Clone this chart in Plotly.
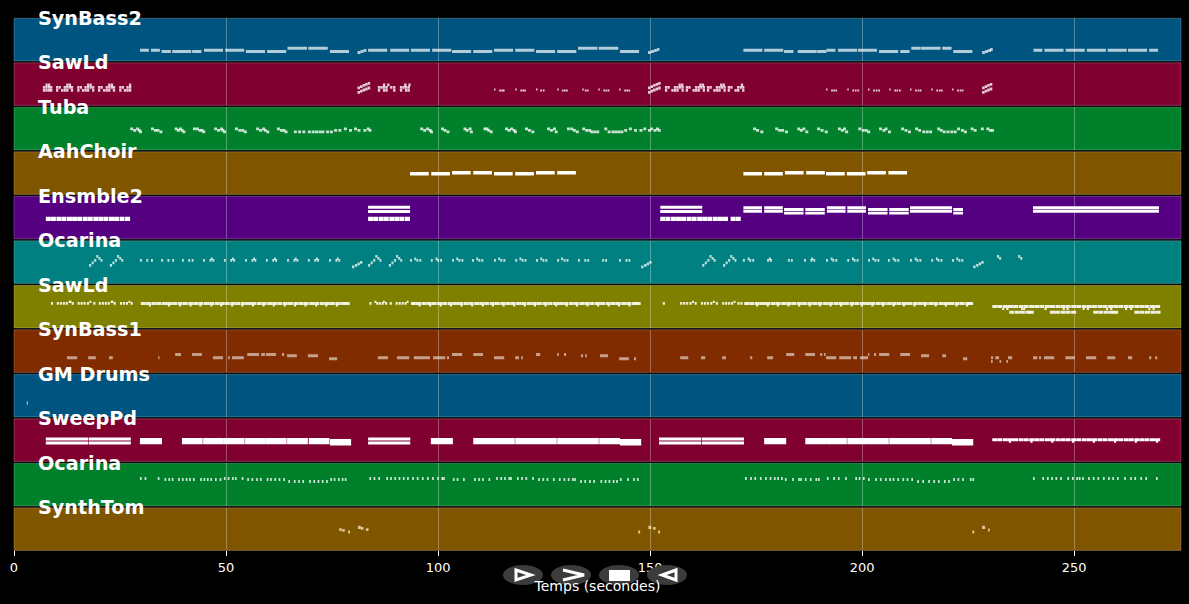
import plotly.graph_objects as go

# Each group: (pitch height, bar thickness, duration(s), [note starts in seconds])
TRACK_NAMES = ["SynBass2", "SawLd", "Tuba", "AahChoir", "Ensmble2", "Ocarina",
               "SawLd", "SynBass1", "GM Drums", "SweepPd", "Ocarina", "SynthTom"]
ROW_COLORS = ["#005580", "#800030", "#00802b", "#805500", "#550080", "#008080",
              "#808000", "#802b00", "#005580", "#800030", "#00802b", "#805500"]
NOTE_COLORS = ["rgba(255,255,255,0.7)", "rgba(255,255,255,0.8)", "rgba(255,255,255,0.78)",
               "rgba(255,255,255,1)", "rgba(255,255,255,1)", "rgba(255,255,255,0.75)",
               "rgba(255,255,255,0.88)", "rgba(255,255,255,0.55)", "rgba(255,255,255,0.55)",
               "rgba(255,255,255,1)", "rgba(255,255,255,0.8)", "rgba(255,235,190,0.75)"]

SYNBASS2 = [
    (10.7, 3, 2.1, [29.7, 32.3, 191.6, 240.4, 267.7]),
    (9.3, 3, 2.2, [34.8, 42.0, 181.6, 189.4, 209.0]),
    (9.3, 3, 4.5, [37.3, 54.7, 59.7, 74.5, 103.3, 108.3, 123.1, 128.1, 142.9, 184.8, 204.0, 221.5]),
    (10.7, 3, 4.5, [44.8, 49.8, 83.5, 88.7, 93.6, 98.6, 113.2, 118.2, 172.0, 176.9, 194.3, 199.0,
                    243.0, 248.0, 253.0, 257.9, 262.7]),
    (12.7, 3, 4.6, [64.5, 69.4, 133.0, 137.9, 213.9]),
    (12.7, 3, 2.2, [211.6, 218.9]),
    (8.5, 3, 0.7, [81.0, 149.5, 228.3]),
    (9.5, 3, 0.7, [81.7, 150.2, 229.0]),
    (10.5, 3, 0.7, [82.4, 150.9, 229.7]),
    (11.3, 3, 0.6, [151.6, 230.2]),
]

SAWLD_1 = [
    (20.5, 2.8, 0.55, [7.4, 8.0, 12.3, 12.9, 17.2, 17.8, 22.2, 22.8, 27.1, 87.0, 88.0, 92.0, 93.0,
                       156.7, 157.3, 161.6, 162.2, 166.5, 167.1, 171.4]),
    (18.0, 2.8, 0.55, [6.8, 7.4, 8.0, 8.5, 9.9, 10.5, 11.7, 12.3, 12.9, 13.4, 14.9, 15.5, 16.6, 17.2,
                       17.8, 18.4, 19.8, 20.4, 21.6, 22.2, 22.8, 23.3, 24.8, 25.4, 26.5, 27.1,
                       85.8, 86.4, 87.0, 87.6, 88.7, 89.4, 91.0, 91.6, 92.2, 92.8,
                       153.5, 154.1, 155.6, 156.2, 156.8, 157.4, 158.4, 159.0, 160.6, 161.2,
                       161.8, 162.4, 163.4, 164.0, 165.5, 166.1, 166.7, 167.3, 168.3, 168.9,
                       170.5, 171.1, 171.7]),
    (15.0, 2.8, 0.55, [6.8, 7.4, 8.0, 8.5, 9.9, 11.1, 11.7, 12.3, 13.4, 14.9, 16.0, 16.6, 17.2, 18.4,
                       19.8, 21.0, 21.6, 22.2, 23.3, 24.8, 25.9, 26.5, 27.1,
                       85.8, 87.0, 87.6, 89.4, 91.0, 92.2, 92.8,
                       153.5, 155.0, 155.6, 156.2, 157.4, 158.4, 160.0, 160.6, 161.2, 162.4,
                       163.4, 164.9, 165.5, 166.1, 167.3, 168.3, 169.9, 170.5, 171.7]),
    (13.0, 2.8, 0.6, [81.0, 149.5, 228.3]),
    (14.2, 2.8, 0.6, [81.6, 150.1, 228.9]),
    (15.4, 2.8, 0.6, [82.2, 150.7, 229.5]),
    (16.4, 2.8, 0.6, [82.8, 151.3, 230.1]),
    (17.4, 2.8, 0.6, [83.4, 151.9]),
    (17.6, 2.8, 0.6, [81.0, 149.5, 228.3]),
    (18.8, 2.8, 0.6, [81.6, 150.1, 228.9]),
    (20.0, 2.8, 0.6, [82.2, 150.7, 229.5]),
    (21.0, 2.8, 0.6, [82.8, 151.3, 230.1]),
    (22.0, 2.8, 0.6, [83.4, 151.9]),
    (16.0, 2, 0.35, [113.2, 118.2, 123.1, 128.1, 134.0, 137.8, 142.7, 191.5, 196.5, 201.4, 206.4,
                     211.3, 216.3, 221.2]),
    (15.0, 2, 0.4, [114.4, 114.9, 115.3, 119.4, 119.9, 120.3, 124.1, 124.7, 129.2, 129.7, 130.2,
                    134.6, 135.1, 139.0, 139.5, 140.0, 143.9, 144.4, 144.9,
                    192.7, 193.2, 193.7, 197.7, 198.3, 198.9, 202.6, 203.2, 203.8, 207.6, 208.1,
                    208.7, 212.5, 213.1, 213.6, 217.5, 218.1, 218.6, 222.4, 223.0, 223.5]),
]

TUBA = [
    (21.0, 2.8, 0.7, [27.4, 28.8, 32.3, 37.9, 38.9, 42.2, 42.9, 47.2, 48.6, 52.1, 57.1, 58.5, 62.0,
                      77.8, 80.2, 83.2, 95.8, 97.2, 100.7, 106.0, 107.2, 110.7, 111.2, 115.8,
                      117.0, 120.5, 125.7, 127.1, 130.4, 131.2, 134.0, 139.2, 145.0, 148.4, 150.0,
                      151.4, 174.3, 179.5, 184.7, 185.9, 189.4, 194.3, 195.5, 199.1, 204.0, 205.3,
                      209.2, 212.5, 217.7, 222.4, 225.6, 228.0, 229.3]),
    (19.5, 2.8, 0.7, [28.1, 29.2, 33.0, 33.6, 38.4, 39.3, 43.5, 44.0, 47.9, 48.9, 52.9, 53.6, 57.8,
                      58.9, 62.7, 63.3, 75.5, 76.5, 79.0, 81.0, 82.4, 83.6, 96.5, 97.8, 101.3,
                      106.5, 111.6, 116.4, 117.6, 121.2, 126.4, 131.8, 134.7, 135.4, 143.9, 146.2,
                      147.5, 149.5, 150.8, 151.8, 175.0, 180.2, 180.9, 185.3, 190.2, 195.0,
                      199.9, 200.6, 204.8, 210.0, 213.2, 218.3, 223.3, 226.3, 229.9, 230.4]),
    (18.0, 2.8, 0.7, [29.5, 34.3, 39.7, 44.4, 49.3, 54.2, 59.5, 63.8, 66.0, 67.0, 68.0, 69.3, 70.2,
                      71.0, 71.8, 72.5, 73.6, 74.5, 98.1, 102.0, 107.5, 112.2, 117.9, 122.0, 127.5,
                      132.5, 135.9, 136.6, 137.3, 140.0, 140.9, 141.6, 142.3, 143.0, 176.0, 181.8,
                      186.6, 191.2, 196.0, 201.2, 206.1, 210.8, 214.2, 215.0, 215.8, 219.0, 219.9,
                      220.8, 221.6, 224.0]),
]

AAHCHOIR = [
    (20.7, 3.5, 4.4, [93.4, 98.4, 113.2, 118.2, 172.0, 176.9, 191.5, 196.4]),
    (21.7, 3.5, 4.4, [103.3, 108.3, 123.1, 128.1, 181.8, 186.8, 201.2, 206.2]),
]

ENSMBLE2 = [
    (20.0, 4.2, 1.18, [7.5, 8.7, 10.0, 11.2, 12.5, 13.7, 14.9, 16.2, 17.4, 18.7, 19.9, 21.1, 22.4,
                       23.6, 24.9, 26.2, 83.5, 84.7, 86.0, 87.2, 88.5, 89.7, 90.9, 92.2,
                       152.4, 153.6, 154.9, 156.1, 157.3, 158.6, 159.8, 161.1, 162.3, 163.5, 164.8,
                       166.0, 167.2, 169.0, 170.2]),
    (31.6, 2.9, 9.9, [83.5, 152.4]),
    (27.4, 2.9, 9.9, [83.5, 152.4]),
    (31.2, 2.9, 4.4, [172.0, 176.9, 191.7, 196.5]),
    (27.6, 2.9, 4.4, [172.0, 176.9, 191.7, 196.5]),
    (29.4, 2.9, 4.6, [181.6, 186.6, 201.4, 206.4]),
    (25.8, 2.9, 4.6, [181.6, 186.6, 201.4, 206.4]),
    (31.2, 2.9, 9.9, [211.3, 240.3, 250.2, 260.1]),
    (27.6, 2.9, 9.9, [211.3, 240.3, 250.2, 260.1]),
    (29.4, 2.9, 2.3, [221.5]),
    (25.8, 2.9, 2.3, [221.5]),
]

OCARINA_1 = [
    (23.0, 2.6, 0.45, [29.7, 31.2, 32.3, 34.7, 36.2, 37.3, 39.6, 41.1, 41.9, 44.6, 46.1, 46.8, 49.5,
                       51.0, 51.7, 54.5, 56.0, 56.7, 59.4, 60.9, 61.6, 64.4, 65.9, 66.6, 69.3, 70.8,
                       71.5, 74.3, 75.8, 76.5, 93.4, 94.9, 95.6, 98.3, 99.8, 100.5, 103.3, 104.8,
                       105.5, 108.0, 109.5, 110.2, 113.2, 114.7, 115.4, 118.2, 119.7, 120.4, 123.1,
                       124.6, 125.3, 128.1, 129.6, 130.3, 133.0, 134.5, 135.2, 138.7, 139.4, 142.7,
                       144.2, 144.9, 171.9, 173.4, 174.1, 177.6, 178.3, 182.5, 183.2, 186.3, 187.8,
                       188.5, 191.5, 193.0, 193.7, 196.5, 198.0, 198.7, 201.4, 202.9, 203.6, 206.1,
                       207.6, 208.3, 211.3, 212.8, 213.5, 216.3, 217.8, 218.5, 221.2, 222.7, 223.4,
                       20.4, 25.3, 86.2, 91.1, 165.0, 169.9]),
    (24.5, 2.6, 0.45, [46.4, 51.4, 56.4, 61.3, 66.2, 71.2, 76.1, 94.4, 99.4, 104.3, 109.0, 114.2,
                       119.2, 124.1, 129.0, 173.0, 178.0, 188.0, 192.6, 197.6, 202.4, 207.2, 212.4,
                       217.4, 222.2]),
    (18.0, 2.6, 0.5, [17.7, 22.6, 83.5, 88.4, 162.3, 167.2]),
    (20.5, 2.6, 0.5, [18.3, 23.2, 84.1, 89.0, 162.9, 167.8]),
    (23.0, 2.6, 0.5, [18.9, 23.8, 84.7, 89.6, 163.5, 168.4]),
    (27.0, 2.6, 0.5, [19.4, 24.3, 85.2, 90.1, 164.0, 168.9, 231.8, 236.8]),
    (25.0, 2.6, 0.5, [19.9, 24.8, 85.7, 90.6, 164.5, 169.4, 232.3, 237.3]),
    (16.5, 2.8, 0.55, [79.7, 147.9, 226.2]),
    (18.0, 2.8, 0.55, [80.4, 148.6, 226.9]),
    (19.5, 2.8, 0.55, [81.0, 149.2, 227.5]),
    (21.0, 2.8, 0.55, [81.6, 149.8, 228.1]),
]

SAWLD_2 = [
    (24.5, 3, 1.18, [29.9, 31.1, 32.4, 33.6, 34.9, 36.1, 37.3, 38.6, 39.8, 41.1, 42.3, 43.5, 44.8,
                     46.0, 47.3, 48.5, 49.7, 51.0, 52.2, 53.5, 54.7, 55.9, 57.2, 58.4, 59.7, 60.9,
                     62.1, 63.4, 64.6, 65.9, 67.1, 68.3, 69.6, 70.8, 72.1, 73.3, 74.5, 75.8, 77.0,
                     78.0, 93.6, 94.8, 96.1, 97.3, 98.5, 99.8, 101.0, 102.3, 103.5, 104.7, 106.0,
                     107.2, 108.5, 109.7, 110.9, 112.2, 113.4, 114.7, 115.9, 117.1, 118.4, 119.6,
                     120.9, 122.1, 123.3, 124.6, 125.8, 127.1, 128.3, 129.5, 130.8, 132.0, 133.3,
                     134.5, 135.7, 137.0, 138.2, 139.5, 140.7, 141.9, 143.2, 144.4, 145.7, 146.6,
                     172.2, 173.4, 174.7, 175.9, 177.1, 178.4, 179.6, 180.9, 182.1, 183.3, 184.6,
                     185.8, 187.1, 188.3, 189.5, 190.8, 192.0, 193.3, 194.5, 195.7, 197.0, 198.2,
                     199.5, 200.7, 201.9, 203.2, 204.4, 205.7, 206.9, 208.1, 209.4, 210.6, 211.9,
                     213.1, 214.3, 215.6, 216.8, 218.1, 219.3, 220.5, 221.8, 223.0, 224.3, 225.0]),
    (22.4, 2, 0.5, [31.8, 36.3, 38.9, 41.4, 43.7, 46.3, 48.6, 51.2, 53.6, 56.1, 58.6, 61.0, 63.6,
                    66.0, 68.5, 71.0, 73.4, 75.9, 95.4, 97.9, 100.4, 102.8, 105.3, 107.8, 110.3,
                    112.7, 115.2, 117.7, 120.2, 122.6, 125.1, 127.6, 130.1, 132.5, 135.0, 137.5,
                    140.0, 142.4, 144.9, 175.0, 177.5, 179.9, 182.4, 184.9, 187.4, 189.8, 192.3,
                    194.8, 197.3, 199.7, 202.2, 204.7, 207.2, 209.6, 212.1, 214.6, 217.1, 219.5,
                    222.0, 224.5]),
    (24.5, 2.6, 0.5, [8.7, 10.1, 10.8, 11.5, 12.2, 13.6, 15.0, 15.7, 16.4, 17.2, 18.7, 20.0, 20.7,
                      21.4, 22.1, 23.5, 25.0, 25.7, 26.4, 27.5, 83.8, 85.4, 86.0, 86.7, 87.5, 88.6,
                      90.0, 90.7, 91.4, 92.1, 94.0, 153.0, 157.1, 157.8, 158.5, 159.3, 160.5,
                      162.0, 162.7, 163.4, 164.2, 165.5, 167.0, 167.7, 168.4, 169.1, 170.6, 171.3]),
    (26.0, 2.2, 0.45, [12.9, 13.1, 17.8, 22.8, 23.0, 27.0, 85.0, 87.0, 92.6, 159.9, 164.8, 169.7]),
    (21.3, 3, 1.18, [230.7, 231.9, 233.2, 234.4, 235.6, 236.9, 238.1, 239.4, 240.6, 241.8, 243.1,
                     244.3, 245.6, 246.8, 248.0, 249.3, 250.5, 251.8, 253.0, 254.2, 255.5, 256.7,
                     258.0, 259.2, 260.4, 261.7, 262.9, 264.2, 265.4, 266.6, 267.9, 269.1]),
    (15.7, 3, 1.18, [234.7, 236.0, 237.2, 238.5, 239.3, 244.3, 245.5, 246.8, 248.0, 249.3,
                     254.5, 255.7, 257.0, 258.2, 259.2, 264.2, 265.4, 266.7, 268.0, 269.2]),
    (19.0, 2, 0.5, [233.0, 234.0, 237.5, 238.0, 243.0, 247.3, 248.2, 252.0, 253.0, 257.5, 258.5,
                    262.0, 263.2, 267.5, 268.5]),
]

SYNBASS1 = [
    (14.7, 3, [2.4, 1.8, 0.9, 0.3, 2.4, 0.4, 2.8, 2.4, 2.9, 3.8, 2.9, 0.5, 2.4, 0.9, 0.4, 1.9, 1.0, 0.9,
               0.5, 1.4, 2.4, 2.8, 0.9, 1.9, 0.5, 0.9, 1.0, 1.0, 0.5, 2.4, 2.3, 2.4, 1.9, 1.0, 0.5, 0.5],
     [12.5, 17.5, 22.4, 34.0, 46.9, 50.5, 51.4, 85.8, 90.3, 94.3, 98.8, 102.1, 113.2, 118.2, 119.6,
      157.1, 162.0, 167.0, 173.6, 177.6, 191.5, 194.6, 197.9, 199.5, 230.4, 231.4, 234.4, 240.3, 241.7,
      242.9, 247.9, 252.8, 257.8, 262.7, 267.7, 269.1]),
    (18.0, 3, [1.4, 2.3, 2.8, 0.9, 2.4, 0.5, 2.4, 2.3, 1.0, 0.4, 0.5, 1.9, 2.3, 0.5, 0.4, 0.3, 0.5, 2.4, 2.3],
     [38.0, 42.0, 55.0, 58.3, 59.4, 63.2, 103.3, 108.3, 123.1, 128.1, 129.7, 182.1, 186.6, 190.1, 191.0,
      201.4, 202.8, 204.0, 209.0]),
    (16.6, 3, [2.3, 2.4, 0.5, 0.4, 1.9, 1.9, 0.9],
     [64.4, 69.3, 133.7, 134.7, 138.2, 213.9, 218.9]),
    (13.7, 3, [1.9, 2.3, 0.5, 1.0], [74.3, 142.7, 146.2, 223.8]),
    (10.8, 3, 0.4, [230.4, 232.4, 234.0]),
]

GM_DRUMS = [(14.0, 3.5, 0.3, [3.0])]

SWEEPPD = [
    (22.4, 3.2, 9.95, [7.5, 17.6, 83.5, 152.1, 162.2]),
    (18.4, 3.2, 9.95, [7.5, 17.6, 83.5, 152.1, 162.2]),
    (20.3, 6.4, 5.2, [29.7, 98.3, 176.9]),
    (20.3, 6.4, 4.9, [39.6, 44.6, 49.5, 54.5, 59.4, 64.4, 69.5, 108.3, 113.2, 118.2, 123.1, 128.1, 133.0,
                      138.0, 186.6, 191.5, 196.5, 201.4, 206.4, 211.3, 216.3]),
    (19.2, 6.4, 5.0, [74.5, 142.9, 221.2]),
    (21.7, 3, 1.18, [230.7, 231.9, 233.2, 234.4, 235.6, 236.9, 238.1, 239.4, 240.6, 241.8, 243.1,
                     244.3, 245.6, 246.8, 248.0, 249.3, 250.5, 251.8, 253.0, 254.2, 255.5, 256.7,
                     258.0, 259.2, 260.4, 261.7, 262.9, 264.2, 265.4, 266.6, 267.9, 269.1]),
    (19.6, 2, 0.5, [234.6, 239.7, 244.6, 249.5, 254.4, 259.4, 264.3, 269.3]),
]

OCARINA_2 = [
    (27.4, 3, 0.4, [29.7, 30.8, 33.9, 49.5, 50.4, 51.4, 52.1, 53.7, 83.8, 84.8, 85.9, 87.8, 88.7, 89.7,
                    90.7, 91.7, 92.7, 93.9, 95.0, 96.2, 97.4, 98.6, 99.8, 100.8, 101.2, 113.7, 114.7,
                    115.6, 116.6, 117.0, 118.6, 119.6, 120.6, 122.2, 172.4, 173.6, 174.6, 175.9, 177.1,
                    178.2, 179.2, 180.0, 180.9, 191.7, 193.2, 194.3, 196.0, 198.4, 199.2, 200.2, 240.3,
                    242.5, 243.6, 244.6, 245.6, 246.7, 248.4, 249.5, 250.5, 251.1, 251.9, 253.3, 254.4,
                    255.5, 256.8, 258.0, 259.0, 260.1, 261.8, 263.2, 264.2, 265.6, 266.8, 269.3]),
    (26.4, 3, 0.4, [35.5, 36.4, 37.2, 38.7, 39.6, 40.5, 41.3, 42.2, 43.9, 44.7, 45.5, 46.3, 47.4, 48.5,
                    55.0, 56.0, 57.1, 58.0, 59.6, 60.4, 61.4, 62.4, 63.5, 74.6, 75.4, 76.4, 77.3, 78.0,
                    103.5, 104.4, 105.9, 108.5, 109.5, 110.4, 111.9, 123.6, 124.6, 125.6, 127.1, 128.5,
                    129.6, 130.6, 131.6, 132.1, 142.9, 144.6, 146.0, 146.9, 181.8, 183.5, 184.9, 185.4,
                    186.5, 187.7, 189.0, 189.6, 201.4, 203.1, 204.2, 205.4, 206.4, 207.2, 208.3, 209.5,
                    210.5, 211.6, 221.5, 222.5, 223.6, 225.4, 226.0]),
    (24.4, 3, 0.4, [64.7, 66.0, 67.0, 68.0, 69.6, 70.6, 71.6, 72.6, 73.6, 133.5, 134.5, 135.6, 136.6,
                    138.3, 139.3, 140.2, 141.2, 142.0, 213.0, 214.2, 215.6, 216.8, 217.9, 219.3, 220.3]),
]

SYNTHTOM = [
    (20.8, 2.6, 0.6, [76.7, 83.0]),
    (20.0, 2.6, 0.6, [77.4]),
    (18.5, 3.0, 0.45, [78.8, 147.2, 151.9, 226.0]),
    (23.0, 3.2, 0.7, [81.1, 149.6, 228.3]),
    (22.0, 2.6, 0.6, [81.8, 150.7]),
    (20.3, 3.0, 0.4, [229.7]),
]

TRACKS = [SYNBASS2, SAWLD_1, TUBA, AAHCHOIR, ENSMBLE2, OCARINA_1,
          SAWLD_2, SYNBASS1, GM_DRUMS, SWEEPPD, OCARINA_2, SYNTHTOM]
X_TICKS = [0, 50, 100, 150, 200, 250]
X_MAX = 275.2

# ---- page geometry (pixels) ----
W, H = 1189, 604
PL, PR, PT, PB = 14, 1181, 18, 552
ROW_TOP = 18.3
ROW_STEP = 44.5
ROW_H = 42.6


def paper_x(px):
    return (px - PL) / (PR - PL)


def paper_y(py):
    return (PB - py) / (PB - PT)


fig = go.Figure()
layout_axes = {}
shapes = []
annotations = []

for i, (name, bg, ink, groups) in enumerate(zip(TRACK_NAMES, ROW_COLORS, NOTE_COLORS, TRACKS)):
    top = ROW_TOP + i * ROW_STEP
    bottom = top + ROW_H
    starts, durs, pitches, thick = [], [], [], []
    for pitch, t, dur, begin in groups:
        for k, s in enumerate(begin):
            starts.append(s)
            durs.append(dur[k] if isinstance(dur, list) else dur)
            pitches.append(pitch)
            thick.append(t)
    suffix = "" if i == 0 else str(i + 1)
    fig.add_trace(go.Bar(
        name=name, orientation="h", base=starts, x=durs, y=pitches, width=thick,
        marker=dict(color=ink, line=dict(width=0)), xaxis="x", yaxis="y" + suffix,
        showlegend=False, hoverinfo="skip",
    ))
    layout_axes["yaxis" + suffix] = dict(
        domain=[paper_y(bottom), paper_y(top)], range=[0, ROW_H], visible=False,
        fixedrange=True, anchor="x", showgrid=False, zeroline=False,
    )
    shapes.append(dict(
        type="rect", xref="paper", yref="paper", layer="below",
        x0=0, x1=1, y0=paper_y(bottom), y1=paper_y(top),
        fillcolor=bg, line=dict(color="rgba(255,255,255,0.22)", width=1),
    ))
    annotations.append(dict(
        text=name, xref="paper", yref="paper", x=paper_x(36.2), y=paper_y(top),
        xanchor="left", yanchor="middle", showarrow=False,
        font=dict(family="DejaVu Sans", size=19.2, color="white", weight="bold"),
    ))

# transport buttons
for cx in [523, 571, 619, 667]:
    shapes.append(dict(
        type="circle", xref="paper", yref="paper", layer="above",
        x0=paper_x(cx - 20), x1=paper_x(cx + 20), y0=paper_y(585), y1=paper_y(565),
        fillcolor="#3c3c3c", line=dict(width=0),
    ))


def icon(points, close=True):
    cmds = [("M" if k == 0 else "L") + f"{paper_x(x):.5f},{paper_y(y):.5f}" for k, (x, y) in enumerate(points)]
    return " ".join(cmds) + (" Z" if close else "")


shapes.append(dict(type="path", xref="paper", yref="paper", layer="above",
                   path=icon([(516, 570), (531, 575), (516, 580)]), line=dict(color="white", width=3)))
shapes.append(dict(type="path", xref="paper", yref="paper", layer="above",
                   path=icon([(563, 570), (584, 575), (563, 580)], close=False), line=dict(color="white", width=3)))
shapes.append(dict(type="rect", xref="paper", yref="paper", layer="above",
                   x0=paper_x(609), x1=paper_x(630), y0=paper_y(581), y1=paper_y(570),
                   fillcolor="white", line=dict(width=0)))
shapes.append(dict(type="path", xref="paper", yref="paper", layer="above",
                   path=icon([(676, 570), (662, 575), (676, 580)]), line=dict(color="white", width=3)))

fig.update_layout(
    width=W, height=H, autosize=False,
    margin=dict(l=PL, r=W - PR, t=PT, b=H - PB, pad=0),
    paper_bgcolor="black", plot_bgcolor="rgba(0,0,0,0)",
    barmode="overlay", hovermode=False,
    font=dict(family="DejaVu Sans", color="white", size=13),
    xaxis=dict(
        domain=[0, 1], range=[0, X_MAX], anchor="y12", tickmode="array", tickvals=X_TICKS,
        ticks="outside", ticklen=5, tickwidth=1, tickcolor="white",
        showgrid=True, gridcolor="rgba(255,255,255,0.3)", gridwidth=1, zeroline=False,
        showline=False, fixedrange=True,
        tickfont=dict(family="DejaVu Sans", size=13, color="white"),
        title=dict(text="Temps (secondes)", standoff=7,
                   font=dict(family="DejaVu Sans", size=14, color="white")),
    ),
    shapes=shapes, annotations=annotations,
    **layout_axes,
)

fig.write_html("out.html", config={"displayModeBar": False},
               post_script="document.body.style.margin='0';document.body.style.background='black';")
